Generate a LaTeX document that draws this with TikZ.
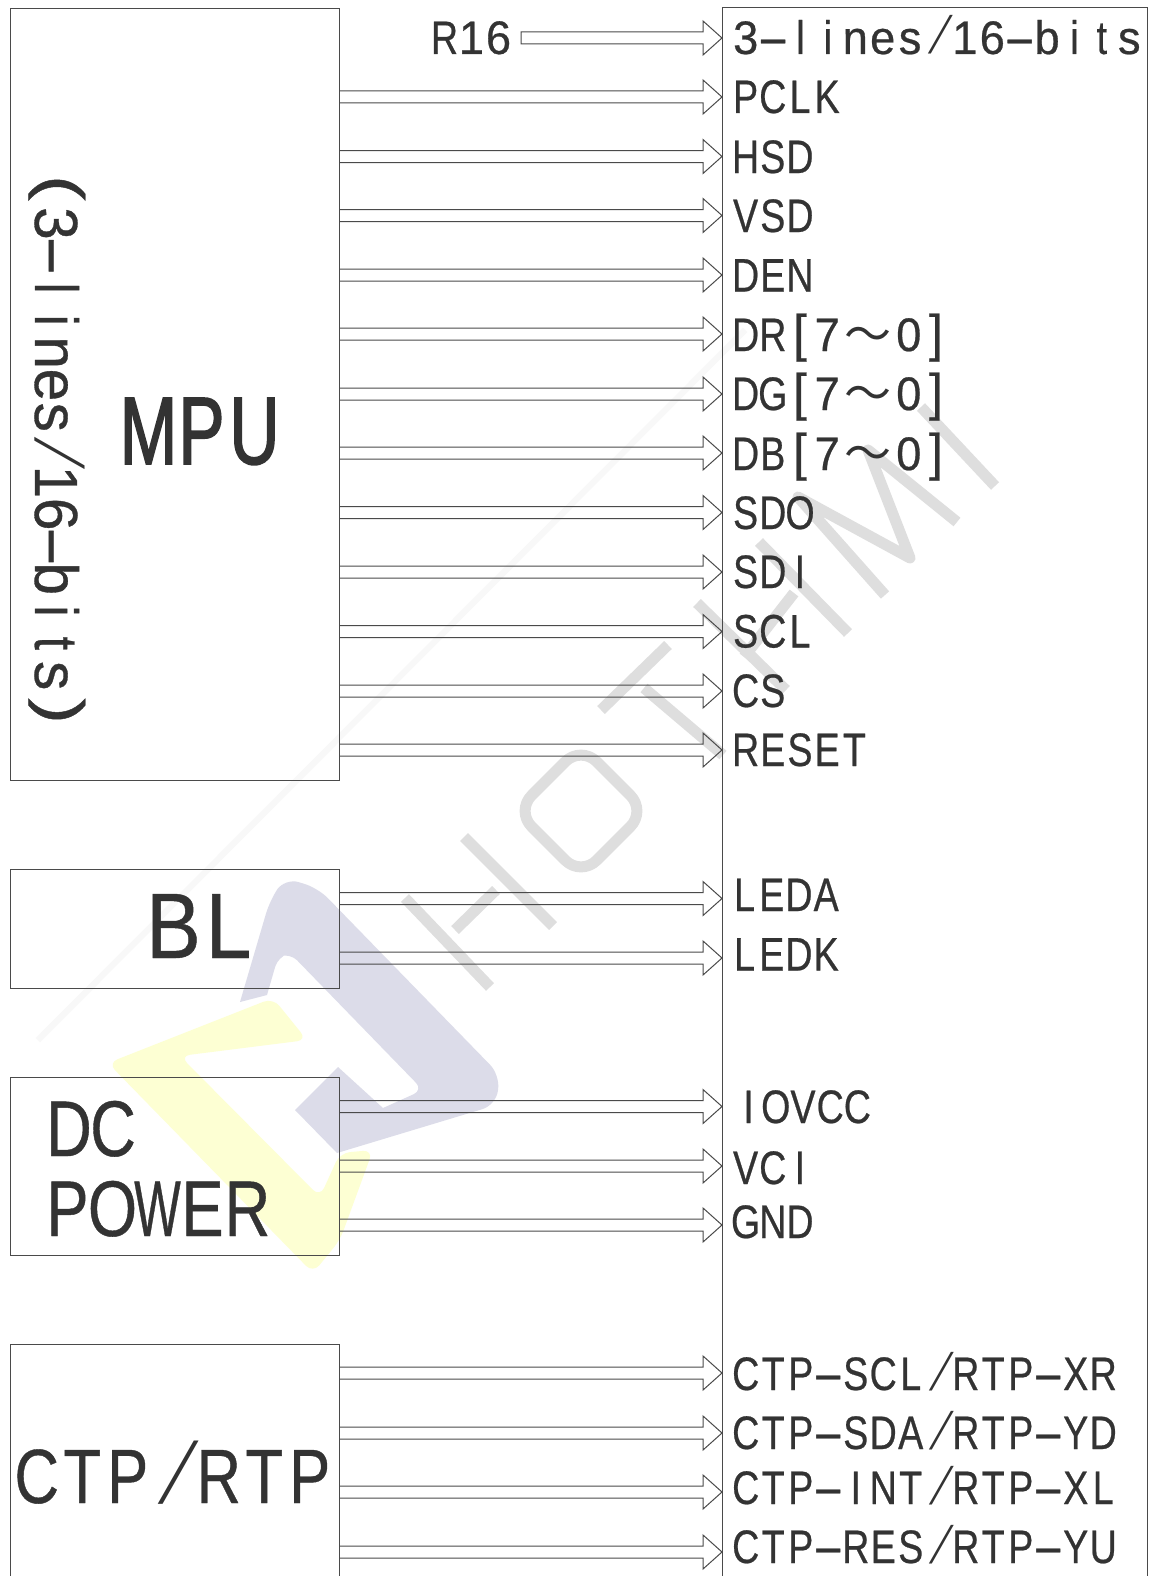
\documentclass[tikz,border=0pt]{standalone}
\usepackage{fontspec}
\usepackage{graphicx}
\usetikzlibrary{calc}
\setmainfont[FakeStretch=0.8,FakeBold=0.5]{Liberation Sans}
\newfontfamily\narrowfont[FakeStretch=0.72,FakeBold=1.6]{Liberation Sans}
\newfontfamily\slashfont[FakeStretch=0.8,FakeSlant=0.42]{Liberation Sans}
\newfontfamily\cjk{Noto Sans CJK SC}
\definecolor{ink}{HTML}{333333}
\definecolor{wire}{HTML}{4A4A4A}
\definecolor{wm}{HTML}{DEDEDE}
\definecolor{wmfaint}{HTML}{F8F8F8}
\definecolor{logoblue}{HTML}{DCDCE9}
\definecolor{logoyellow}{HTML}{FDFFD3}
\newcommand\wider[1]{\scalebox{1.2}[1]{#1}}
\ExplSyntaxOn
\NewDocumentCommand\mono{mm}{
  \tl_map_inline:nn {#2} {
    \str_case:nnF {##1} {
      {-}{\makebox[#1][c]{\scalebox{2.6}[1]{-}}}
      {/}{\makebox[#1][c]{\hspace{-.17em}\scalebox{1}[1.12]{\slashfont /}}}
      {[}{\makebox[#1][c]{\scalebox{1.3}[1.1]{[}}}
      {]}{\makebox[#1][c]{\scalebox{1.3}[1.1]{]}}}
      {(}{\makebox[#1][l]{\raisebox{.1em}{\scalebox{1.6}[1]{(}}}}
      {)}{\makebox[#1][r]{\raisebox{.1em}{\scalebox{1.6}[1]{)}}}}
      {W}{\makebox[#1][c]{\scalebox{.78}[1]{W}}}
      {～}{\makebox[2\dimexpr#1\relax][c]{\cjk ～}}
      {0}{\makebox[#1][c]{\wider{0}}}
      {1}{\makebox[#1][c]{\wider{1}}}
      {3}{\makebox[#1][c]{\wider{3}}}
      {6}{\makebox[#1][c]{\wider{6}}}
      {7}{\makebox[#1][c]{\wider{7}}}
      {b}{\makebox[#1][c]{\wider{b}}}
      {e}{\makebox[#1][c]{\wider{e}}}
      {n}{\makebox[#1][c]{\wider{n}}}
      {s}{\makebox[#1][c]{\wider{s}}}
    }{\makebox[#1][c]{##1}}
  }
}
\ExplSyntaxOff
\tikzset{
  boxn/.style={draw=wire,line width=1pt,inner sep=0pt,outer sep=0pt,anchor=north west,fill=none},
  lab/.style={anchor=base west,inner sep=0pt,outer sep=0pt,text=ink,font=\fontsize{47}{50}\selectfont},
  big/.style={anchor=base west,inner sep=0pt,outer sep=0pt,text=ink},
  bigarrow/.style={draw=wire,line width=1pt,line join=miter,to path={
    ($(\tikztostart)+(0,-6)$) -- ($(\tikztotarget)+(-19,-6)$) -- ($(\tikztotarget)+(-19,-17)$) -- (\tikztotarget)
    -- ($(\tikztotarget)+(-19,17)$) -- ($(\tikztotarget)+(-19,6)$) -- ($(\tikztostart)+(0,6)$)}},
  closedarrow/.style={draw=wire,line width=1pt,line join=miter,to path={
    ($(\tikztostart)+(0,-6)$) -- ($(\tikztotarget)+(-19,-6)$) -- ($(\tikztotarget)+(-19,-17)$) -- (\tikztotarget)
    -- ($(\tikztotarget)+(-19,17)$) -- ($(\tikztotarget)+(-19,6)$) -- ($(\tikztostart)+(0,6)$) -- cycle}},
  wmark/.style={draw=wm,line width=11pt,line cap=butt,line join=round}
}
\newcommand\sig[6]{%
  \coordinate (s#1) at (#2.east |- 0,#3);
  \coordinate (t#1) at (rbox.west |- 0,#3);
  \draw[bigarrow] (s#1) to (t#1);
  \node[lab] (l#1) at (#5,#4) {\mono{27.2pt}{#6}};
}
\newcommand\sigw[6]{%
  \coordinate (s#1) at (#2.east |- 0,#3);
  \coordinate (t#1) at (rbox.west |- 0,#3);
  \draw[bigarrow] (s#1) to (t#1);
  \node[lab] (l#1) at (#5,#4) {\mono{27.5pt}{#6}};
}
\begin{document}
\begin{tikzpicture}[x=1pt,y=-1pt]
\useasboundingbox (0,0) rectangle (1148,1576);
\clip (0,0) rectangle (1148,1576);
\fill[white] (0,0) rectangle (1148,1576);
% watermark
\draw[wmfaint,line width=6pt] (38,1040) -- (745,330);
\fill[logoyellow,rounded corners=10pt] (108,1063) -- (273,998) -- (307,1040) -- (180,1056) -- (320,1197) -- (340,1153) -- (373,1150) -- (340,1240) -- (313,1273) -- cycle;
\fill[logoblue,rounded corners=14pt] (240,1002) -- (270,900) -- (285,878) -- (318,888) -- (500,1075) -- (496,1105) [sharp corners] -- (337,1153) -- (295,1110) -- (338,1067) -- (383,1108) [rounded corners=10pt] -- (423,1090) -- (290,953) -- (278,957) [sharp corners] -- (267,995) -- cycle;
\draw[wmark] (405,898) -- (490,987);
\draw[wmark] (464,837) -- (553,926);
\draw[wmark] (455,930) -- (496,890);
\draw[wmark,rounded corners=22pt] (581,746) -- (646,811) -- (581,876) -- (516,811) -- cycle;
\draw[wmark] (601,710) -- (668,645);
\draw[wmark] (644,688) -- (723,755);
\draw[wmark] (697,603) -- (786,690);
\draw[wmark] (759,542) -- (848,633);
\draw[wmark] (744,657) -- (794,593);
\draw[wmark] (885,595) -- (798,497) -- (910,558) -- (868,450) -- (957,522);
\draw[wmark] (921,407) -- (995,486);
% blocks
\node[boxn,minimum width=329pt,minimum height=771pt] (mpu) at (10,9) {};
\node[boxn,minimum width=329pt,minimum height=119pt] (bl) at (10,869) {};
\node[boxn,minimum width=329pt,minimum height=178pt] (dc) at (10,1077) {};
\node[boxn,minimum width=329pt,minimum height=300pt] (ctp) at (10,1344) {};
\node[boxn,minimum width=425pt,minimum height=1640pt] (rbox) at (722,8) {};
% block labels
\node[big,font=\narrowfont\fontsize{96}{100}\selectfont] (tmpu) at (122,464) {\mono{53pt}{MPU}};
\node[big,font=\fontsize{61}{66}\selectfont,rotate=-90] (tmode) at (35,175) {\mono{32.3pt}{(3-lines/16-bits)}};
\node[big,font=\fontsize{93}{100}\selectfont] (tbl) at (146,958) {\scalebox{1.1}[1]{\mono{50pt}{BL}}};
\node[big,font=\fontsize{79}{85}\selectfont] (tdc) at (47,1156) {\mono{44pt}{DC}};
\node[big,font=\fontsize{79}{85}\selectfont] (tpower) at (45,1236) {\mono{45pt}{POWER}};
\node[big,font=\fontsize{77}{85}\selectfont] (tctp) at (14,1503) {\mono{45.5pt}{CTP/RTP}};
% R16
\node[lab] (lR16) at (431,54) {\mono{27pt}{R16}};
\coordinate (sR16) at (521,38);
\coordinate (tmode16) at (rbox.west |- 0,38);
\draw[closedarrow] (sR16) to (tmode16);
\node[lab] (lmode) at (732,54) {\mono{27.4pt}{3-lines/16-bits}};
% signals
\sig{pclk}{mpu}{97}{113}{732}{PCLK}
\sig{hsd}{mpu}{156.5}{173}{732}{HSD}
\sig{vsd}{mpu}{215.5}{232}{732}{VSD}
\sig{den}{mpu}{275}{291.5}{732}{DEN}
\sig{dr}{mpu}{334}{351}{732}{DR[7～0]}
\sig{dg}{mpu}{394}{410}{732}{DG[7～0]}
\sig{db}{mpu}{453}{470}{732}{DB[7～0]}
\sig{sdo}{mpu}{512.5}{529}{732}{SDO}
\sig{sdi}{mpu}{572}{588}{732}{SDI}
\sig{scl}{mpu}{631.5}{647.5}{732}{SCL}
\sig{cs}{mpu}{691}{707}{732}{CS}
\sig{reset}{mpu}{750}{766}{732}{RESET}
\sig{leda}{bl}{898.5}{911}{731}{LEDA}
\sig{ledk}{bl}{958}{970.5}{731}{LEDK}
\sig{iovcc}{dc}{1106.5}{1123}{735}{IOVCC}
\sig{vci}{dc}{1166}{1184}{732}{VCI}
\sig{gnd}{dc}{1225}{1238}{732}{GND}
\sigw{ctpa}{ctp}{1373}{1390}{732}{CTP-SCL/RTP-XR}
\sigw{ctpb}{ctp}{1433}{1449}{732}{CTP-SDA/RTP-YD}
\sigw{ctpc}{ctp}{1492}{1504}{732}{CTP-INT/RTP-XL}
\sigw{ctpd}{ctp}{1552}{1563}{732}{CTP-RES/RTP-YU}
\end{tikzpicture}
\end{document}
